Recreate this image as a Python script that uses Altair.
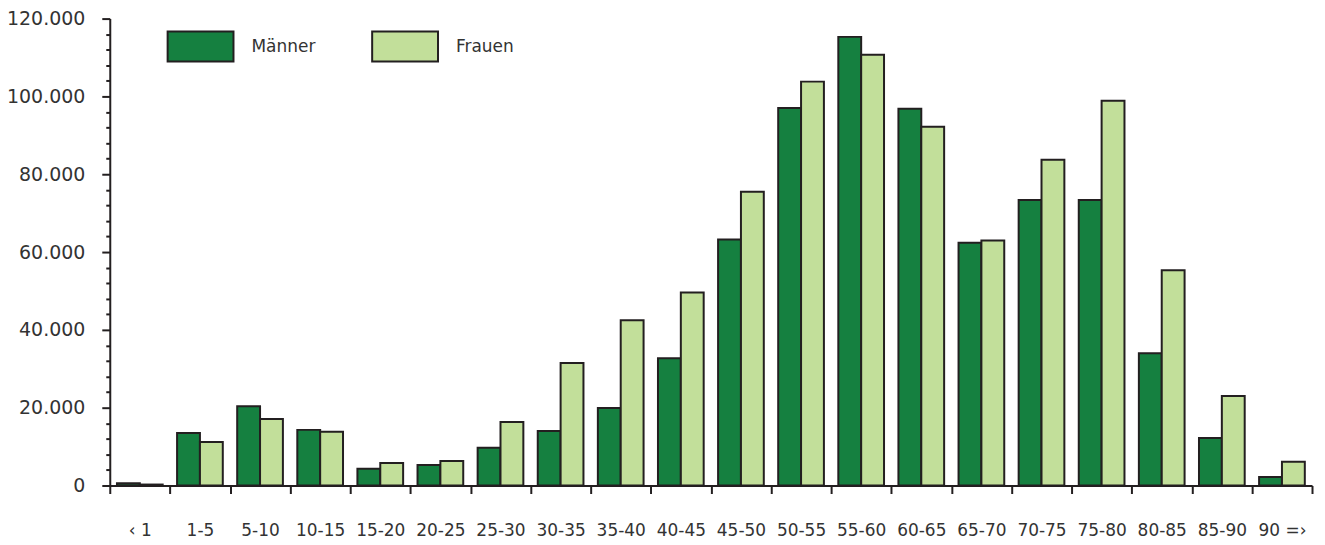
import altair as alt
import pandas as pd

categories = ["‹ 1", "1-5", "5-10", "10-15", "15-20", "20-25", "25-30", "30-35", "35-40",
              "40-45", "45-50", "50-55", "55-60", "60-65", "65-70", "70-75", "75-80",
              "80-85", "85-90", "90 =›"]
maenner = [600, 13500, 20400, 14300, 4300, 5300, 9700, 14000, 19900, 32700, 63200,
           97000, 115300, 96800, 62400, 73400, 73400, 34000, 12200, 2200]
frauen = [250, 11200, 17100, 13800, 5800, 6300, 16300, 31500, 42500, 49600, 75500,
          103800, 110700, 92200, 63000, 83700, 98900, 55300, 23000, 6100]
series = ["Männer", "Frauen"]
colors = ["#158040", "#c2df9a"]

rows = []
for i, c in enumerate(categories):
    rows.append({"Alter": c, "Geschlecht": series[0], "Anzahl": maenner[i]})
    rows.append({"Alter": c, "Geschlecht": series[1], "Anzahl": frauen[i]})
df = pd.DataFrame(rows)

FONT = "DejaVu Sans"
INK = "#231f20"

y_ticks = list(range(0, 120001, 4000))

chart = alt.Chart(df).mark_bar(stroke=INK, strokeWidth=2).encode(
    x=alt.X("Alter:N", sort=categories, title=None,
            scale=alt.Scale(paddingInner=0, paddingOuter=0),
            axis=alt.Axis(labelAngle=0, tickBand="extent", tickSize=8, tickWidth=2,
                          tickColor=INK, domainColor=INK, domainWidth=2,
                          labelFont=FONT, labelFontSize=17, labelColor="#333333",
                          labelPadding=29, grid=False)),
    xOffset=alt.XOffset("Geschlecht:N", sort=series,
                        scale=alt.Scale(paddingOuter=0.315, paddingInner=0)),
    y=alt.Y("Anzahl:Q", title=None,
            scale=alt.Scale(domain=[0, 120000], nice=False),
            axis=alt.Axis(values=y_ticks, grid=False, tickWidth=2, tickColor=INK,
                          domainColor=INK, domainWidth=2,
                          tickSize={"condition": {"test": "datum.value % 20000 == 0", "value": 8}, "value": 4},
                          labelExpr="datum.value % 20000 == 0 ? replace(format(datum.value, ','), ',', '.') : ''",
                          labelFont=FONT, labelFontSize=19, labelColor="#333333",
                          labelPadding=17)),
    color=alt.Color("Geschlecht:N", sort=series,
                    scale=alt.Scale(domain=series, range=colors),
                    legend=alt.Legend(title=None, orient="none", legendX=57, legendY=-6,
                                      direction="horizontal",
                                      symbolType="M-1,-0.4545H1V0.4545H-1Z",
                                      symbolSize=4356, symbolStrokeWidth=2,
                                      symbolStrokeColor=INK, symbolOpacity=1,
                                      labelFont=FONT, labelFontSize=17,
                                      labelColor="#333333", labelOffset=17,
                                      columnPadding=52, padding=0)),
).properties(
    width=1205, height=468,
    autosize=alt.AutoSizeParams(type="none"),
    padding={"left": 102, "top": 10, "right": 5, "bottom": 57},
).configure_view(stroke=None)

chart.save("out.html", embed_options={"renderer": "svg", "actions": False})
